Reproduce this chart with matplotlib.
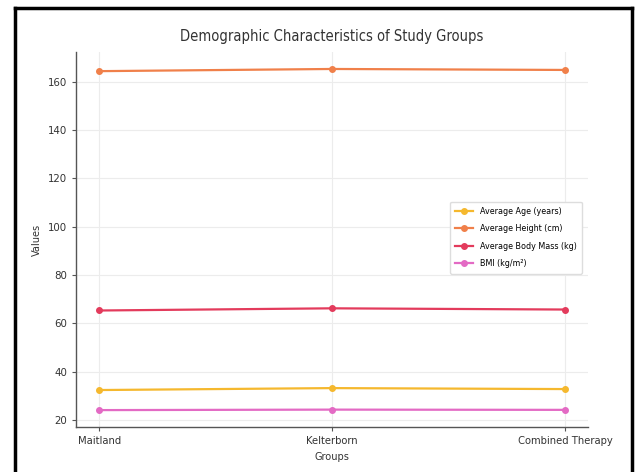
import matplotlib
matplotlib.use("Agg")
import matplotlib.pyplot as plt
from matplotlib.lines import Line2D

plt.rcParams["font.family"] = ["DejaVu Sans"]
plt.rcParams["font.stretch"] = "condensed"

groups = ["Maitland", "Kelterborn", "Combined Therapy"]
avg_age = [32.4, 33.2, 32.8]
avg_height = [164.3, 165.2, 164.8]
avg_mass = [65.3, 66.2, 65.7]
bmi = [24.1, 24.3, 24.2]

series = [
    ("Average Age (years)", avg_age, "#f5b82e"),
    ("Average Height (cm)", avg_height, "#f0804a"),
    ("Average Body Mass (kg)", avg_mass, "#e33b5c"),
    ("BMI (kg/m\u00b2)", bmi, "#e36ac4"),
]

fig = plt.figure(figsize=(6.4, 4.72), dpi=100)
ax = fig.add_axes([0.119, 0.095, 0.800, 0.795])

x = list(range(len(groups)))
for label, vals, color in series:
    ax.plot(x, vals, marker="o", markersize=4, linewidth=1.6, color=color, label=label)

ax.set_xticks(x)
ax.set_xticklabels(groups, fontsize=8, color="#333333")
ax.tick_params(axis="y", labelsize=8.2, labelcolor="#333333", length=3, color="#555555")
ax.tick_params(axis="x", length=3, color="#555555")
ax.set_xlabel("Groups", fontsize=7.8, color="#333333")
ax.set_ylabel("Values", fontsize=7.8, color="#333333")
ax.set_title("Demographic Characteristics of Study Groups", fontsize=10.5, color="#333333", pad=8)
ax.grid(True, color="#ececec", linewidth=0.8)
ax.set_axisbelow(True)
for side in ("top", "right"):
    ax.spines[side].set_visible(False)
for side in ("left", "bottom"):
    ax.spines[side].set_color("#555555")
    ax.spines[side].set_linewidth(1.0)

ax.legend(loc="center right", bbox_to_anchor=(0.997, 0.505), fontsize=6.4,
          frameon=True, edgecolor="#dddddd", framealpha=1, handlelength=2.0,
          labelspacing=0.95, borderpad=0.6)

# frame drawn around the figure
frame_kw = dict(color="black", linewidth=2.5, transform=fig.transFigure)
fig.add_artist(Line2D([15 / 640, 15 / 640], [0, 1 - 8 / 472], **frame_kw))
fig.add_artist(Line2D([632 / 640, 632 / 640], [0, 1 - 8 / 472], **frame_kw))
fig.add_artist(Line2D([15 / 640, 632 / 640], [1 - 8 / 472, 1 - 8 / 472], **frame_kw))

fig.savefig("out.png", dpi=100)
